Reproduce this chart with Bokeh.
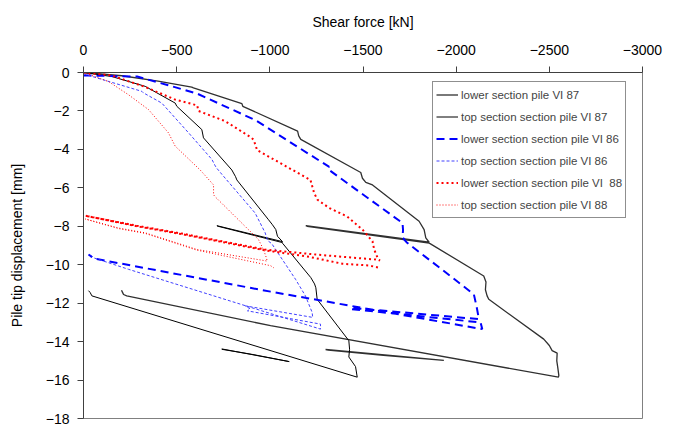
from bokeh.plotting import figure
from bokeh.models import Range1d, Legend, LegendItem, FixedTicker
from bokeh.embed import file_html
from bokeh.resources import INLINE

nan = float("nan")

# ---- data (shear force kN, pile tip displacement mm) ----
x_lower87 = [0, -206, -400, -581, -590, -850, -855, -1149, -1155, -1166, -1488, -1497, -1515, -1551,
             -1801, -1828, -1837, -1855, -1193, -1200, -1855, -1860, -2148, -2160, -2157, -2166, -2175,
             -2470, -2500, -2515, -2542, -2540, -2545, -2551, -2549, -1004, -232, -215, -210, -204,
             nan, -1299, -1934, -1610, -1299]
y_lower87 = [0, -0.17, -0.45, -0.76, -0.80, -1.62, -1.76, -3.05, -3.30, -3.48, -5.20, -5.50, -5.72, -5.85,
             -7.74, -8.17, -8.60, -8.83, -7.97, -8.00, -8.88, -8.90, -10.59, -10.90, -11.30, -11.62, -11.80,
             -13.87, -14.20, -14.47, -14.60, -15.00, -15.33, -15.76, -15.85, -13.17, -11.62, -11.55, -11.45, -11.33,
             nan, -14.41, -14.98, -14.72, -14.43]

x_top87 = [0, -152, -331, -492, -501, -635, -644, -796, -816, -823, -993, -1014, -1032, -1041, -1068,
           -716, -722, -1068, -1068, -1220, -1240, -1247, -1254, -1424, -1428, -1424, -1460, -1469,
           -45, -36, -27, nan, -742, -1104, -903, -742]
y_top87 = [0, -0.21, -0.72, -1.59, -1.76, -2.97, -3.40, -5.07, -5.42, -5.59, -7.66, -7.92, -8.17, -8.52, -8.80,
           -7.97, -8.00, -8.85, -8.88, -10.67, -11.00, -11.20, -11.80, -13.95, -14.40, -14.80, -15.30, -15.85,
           -11.62, -11.45, -11.35, nan, -14.38, -15.04, -14.66, -14.40]

x_lower86 = [0, -277, -288, -450, -610, -923, -1317, -1310, -1322, -1712, -1715, -1712, -1721, -1737,
             -1980, -2095, -2110, -2122, -1433, -1440, -2131, -2140, -1004, -63, -45, -38, -27]
y_lower86 = [-0.15, -0.21, -0.21, -0.65, -1.10, -2.48, -4.90, -5.00, -5.10, -7.83, -8.20, -8.55, -8.69, -8.86,
             -10.67, -11.54, -12.20, -12.83, -12.24, -12.31, -13.00, -13.35, -11.40, -9.69, -9.60, -9.55, -9.47]

x_top86 = [0, -116, -313, -320, -420, -564, -689, -707, -717, -742, -921, -975, -986, -993, -1010,
           -1138, -1191, -1227, -1230, -868, -895, -880, -1272, -1272, -242, -54, -45, -35, -28]
y_top86 = [-0.07, -0.41, -0.98, -1.05, -1.59, -3.14, -4.52, -4.86, -5.00, -5.29, -7.31, -8.34, -8.69, -8.78, -8.90,
           -10.76, -11.62, -12.48, -12.74, -12.14, -12.30, -12.40, -13.09, -13.35, -10.24, -9.64, -9.55, -9.45, -9.47]

x_lower88 = [0, -150, -333, -492, -610, -617, -760, -903, -914, -932, -1218, -1238, -1256, -1319, -1415,
             -1497, -1551, -1560, -1578, -1590,
             -1569, -1247, -975, -528, -286, -9,
             -286, -528, -968, -1211, -1390, -1533, -1587]
y_lower88 = [0, -0.15, -0.76, -1.41, -1.71, -2.00, -2.53, -3.40, -3.52, -4.04, -5.59, -6.28, -6.62, -7.05, -7.49,
             -8.17, -8.78, -9.21, -9.64, -9.78,
             -9.73, -9.47, -9.21, -8.38, -7.97, -7.45,
             -8.00, -8.41, -9.24, -9.59, -9.95, -10.04, -10.16]

x_top88 = [0, -134, -242, -349, -456, -492, -626, -698, -698, -705, -939, -966, -980, -986,
           -610, -331, -188, -9,
           -188, -331, -608, -1004, -1021]
y_top88 = [0, -0.47, -1.16, -1.93, -3.14, -3.83, -5.07, -5.85, -6.36, -6.45, -8.69, -9.21, -9.60, -9.81,
           -9.21, -8.34, -8.09, -7.62,
           -8.12, -8.37, -9.24, -10.05, -10.16]

labels = ["lower section pile VI 87", "top section section pile VI 87",
          "lower section section pile VI 86", "top section section pile VI 86",
          "lower section section pile VI  88", "top section section pile VI 88"]
x_ticks = [0, -500, -1000, -1500, -2000, -2500, -3000]
y_ticks = [0, -2, -4, -6, -8, -10, -12, -14, -16, -18]

FONT = "Liberation Sans"

p = figure(width=680, height=426, x_range=Range1d(0, -3000), y_range=Range1d(-18, 0),
           x_axis_location="above", output_backend="svg", toolbar_location=None,
           min_border_left=83, min_border_right=38, min_border_top=72, min_border_bottom=8)
p.xgrid.visible = False
p.ygrid.visible = False
p.outline_line_color = "#808080"
p.background_fill_color = "white"

p.xaxis.ticker = FixedTicker(ticks=x_ticks)
p.yaxis.ticker = FixedTicker(ticks=y_ticks)
p.xaxis.axis_label = "Shear force [kN]"
p.yaxis.axis_label = "Pile tip displacement [mm]"
for ax in (p.xaxis, p.yaxis):
    ax.major_label_text_font = FONT
    ax.major_label_text_font_size = "14px"
    ax.major_label_text_color = "black"
    ax.axis_label_text_font = FONT
    ax.axis_label_text_font_size = "14px"
    ax.axis_label_text_font_style = "normal"
    ax.axis_label_text_color = "black"
    ax.minor_tick_line_color = None
    ax.major_tick_in = 0
    ax.major_tick_out = 6
    ax.axis_line_color = "#404040"
    ax.major_tick_line_color = "#404040"
p.xaxis.major_label_standoff = 12
p.xaxis.axis_label_standoff = 12
p.yaxis.major_label_standoff = 8
p.yaxis.axis_label_standoff = 18

r1 = p.line(x_lower87, y_lower87, line_color="#303030", line_width=1.3)
r2 = p.line(x_top87, y_top87, line_color="black", line_width=1)
r3 = p.line(x_lower86, y_lower86, line_color="#0000ff", line_width=2, line_dash="8 5")
r4 = p.line(x_top86, y_top86, line_color="#4040ff", line_width=1, line_dash="3 2")
r5 = p.line(x_lower88, y_lower88, line_color="#ff0000", line_width=2, line_dash="2 3")
r6 = p.line(x_top88, y_top88, line_color="#ff0000", line_width=1, line_dash="1 2")

items = [LegendItem(label=l, renderers=[r]) for l, r in zip(labels, [r1, r2, r3, r4, r5, r6])]
legend = Legend(items=items, location=(349, 200), label_text_font=FONT, label_text_font_size="11.5px",
                border_line_color="#202020", border_line_width=1, padding=3, spacing=3,
                label_height=19, glyph_height=19, glyph_width=22, label_standoff=3, margin=0,
                background_fill_color="white", background_fill_alpha=1)
p.add_layout(legend)

open("out.html", "w").write(file_html(p, INLINE))
